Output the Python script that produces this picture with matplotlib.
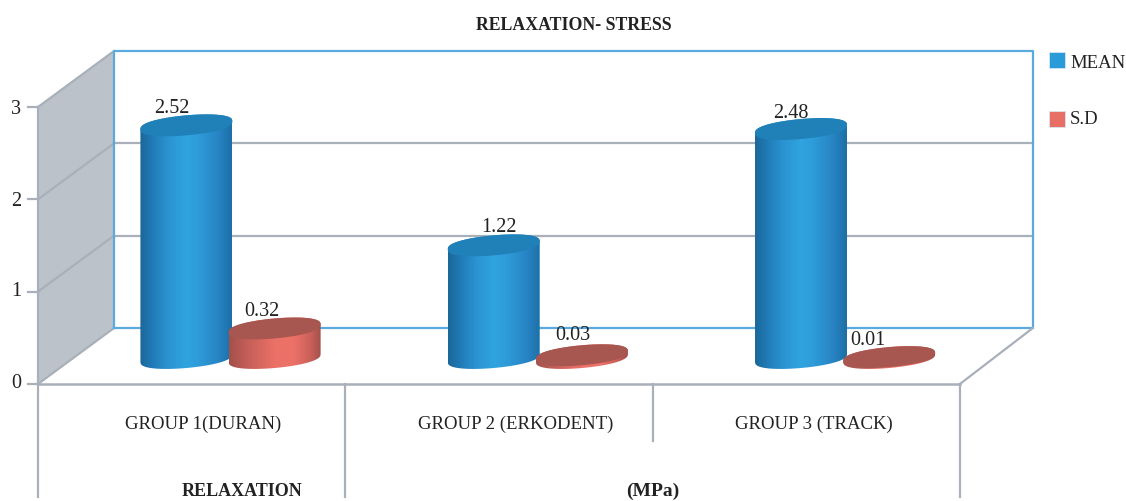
import numpy as np
import matplotlib
matplotlib.use("Agg")
import matplotlib.pyplot as plt
from matplotlib.colors import LinearSegmentedColormap
from matplotlib.patches import Polygon, Rectangle

plt.rcParams['font.family'] = ['Liberation Serif', 'DejaVu Serif']

groups = ['GROUP 1(DURAN)', 'GROUP 2 (ERKODENT)', 'GROUP 3 (TRACK)']
mean_vals = [2.52, 1.22, 2.48]
sd_vals = [0.32, 0.03, 0.01]
y_ticks = [0, 1, 2, 3]

# scale of the front wall: pixels per group and per unit of stress
PX_GROUP = 307.3
PX_UNIT = 92.33
X0, Y0 = 38, 384
DEPTH_X = 76 / PX_GROUP
DEPTH_Y = 56 / PX_UNIT
RIGHT_DEPTH = 73 / PX_GROUP
HALF_W = 46 / PX_GROUP
RY = 10 / PX_UNIT
TILT = 4 / PX_UNIT
FLOOR_Y = 26 / PX_UNIT

GRID = '#a9b0ba'
BLUE_LINE = '#5aa9df'
TEXT = '#222222'

blue_ramp = LinearSegmentedColormap.from_list('b', [(0, '#1b6799'), (0.12, '#2079b4'), (0.3, '#2a93d1'), (0.5, '#30a4df'),
                                                    (0.62, '#2e9dda'), (0.85, '#2884c4'), (1, '#1d6fa6')])
red_ramp = LinearSegmentedColormap.from_list('r', [(0, '#a3504a'), (0.2, '#c45f58'), (0.5, '#ec7167'), (0.7, '#ec7167'),
                                                   (0.88, '#c9605a'), (1, '#9f4f49')])


def px(x, y):
    return (x - X0) / PX_GROUP, (Y0 - y) / PX_UNIT


def ellipse(cx, cy, t):
    s = np.sin(t)
    # slightly squared-off ends, and tilted up to the right
    return np.column_stack([cx + HALF_W * np.cos(t),
                            cy + RY * np.sign(s) * np.abs(s) ** 0.8 + TILT * np.cos(t)])


def cylinder(ax, cx, value, ramp, top_color, z):
    base = FLOOR_Y
    lower = ellipse(cx, base, np.linspace(np.pi, 2 * np.pi, 50))
    upper = ellipse(cx, base + value, np.linspace(0, np.pi, 50))
    body = Polygon(np.vstack([lower, upper]), closed=True, transform=ax.transData, fc='none', ec='none')
    ax.add_patch(body)
    grad = np.linspace(0, 1, 256).reshape(1, -1)
    im = ax.imshow(grad, cmap=ramp, aspect='auto', interpolation='bilinear', zorder=z,
                   extent=(cx - HALF_W, cx + HALF_W, base - 2 * RY, base + value + 2 * RY))
    im.set_clip_path(body)
    cap = ellipse(cx, base + value, np.linspace(0, 2 * np.pi, 100))
    ax.add_patch(Polygon(cap, closed=True, fc=top_color, ec='none', zorder=z + 0.1))


fig = plt.figure(figsize=(11.26, 5.01), dpi=100)
ax = fig.add_axes([0, 0, 1, 1])
ax.set_xlim(-X0 / PX_GROUP, (1126 - X0) / PX_GROUP)
ax.set_ylim((Y0 - 501) / PX_UNIT, Y0 / PX_UNIT)
ax.axis('off')
ax.set_autoscale_on(False)

n = len(groups)
top = y_ticks[-1]
right = n + RIGHT_DEPTH

# side wall and its grid lines
ax.add_patch(Polygon([(0, 0), (DEPTH_X, DEPTH_Y), (DEPTH_X, top + DEPTH_Y), (0, top)],
                     closed=True, fc='#bcc2ca', ec='none', zorder=1))
tick_label_y = [384, 292, 201, 110]
for v, ly in zip(y_ticks, tick_label_y):
    ax.plot([0, DEPTH_X], [v, v + DEPTH_Y], color=GRID, lw=1.6, zorder=2)
    ax.plot([-10 / PX_GROUP, 0], [v, v], color=GRID, lw=1.6, zorder=2)
    ax.text(*px(16, ly), str(v), ha='center', va='center', fontsize=14.5, color=TEXT)
for v in y_ticks[1:-1]:
    ax.plot([DEPTH_X, right], [v + DEPTH_Y, v + DEPTH_Y], color=GRID, lw=1.6, zorder=2)

# back wall outline
ax.plot([DEPTH_X, DEPTH_X, right, right, DEPTH_X],
        [DEPTH_Y, top + DEPTH_Y, top + DEPTH_Y, DEPTH_Y, DEPTH_Y], color=BLUE_LINE, lw=1.6, zorder=3)

# floor edges and the category separators
ax.plot([0, n], [0, 0], color=GRID, lw=1.8, zorder=3)
ax.plot([n, right], [0, DEPTH_Y], color=GRID, lw=1.6, zorder=3)
ax.plot([0, 0], [0, top], color=GRID, lw=1.6, zorder=3)
seps_bottom = [497, 497, 441, 497]
for i, b in enumerate(seps_bottom):
    ax.plot([i, i], [0, px(0, b)[1]], color=GRID, lw=1.6, zorder=3)

# bars and value labels
mean_x = 0.483
sd_x = 0.770
mean_off = [(-15, -17), (5, -18), (-10, -16)]
sd_off = [(-13, -17), (-9, -20), (-21, -17)]
for i in range(n):
    cylinder(ax, i + mean_x, mean_vals[i], blue_ramp, '#2080b8', 5)
    cylinder(ax, i + sd_x, sd_vals[i], red_ramp, '#a85650', 6)
    ax.text(i + mean_x + mean_off[i][0] / PX_GROUP, FLOOR_Y + mean_vals[i] - mean_off[i][1] / PX_UNIT,
            f'{mean_vals[i]:.2f}', ha='center', va='center', fontsize=14.5, color=TEXT, zorder=8)
    ax.text(i + sd_x + sd_off[i][0] / PX_GROUP, FLOOR_Y + sd_vals[i] - sd_off[i][1] / PX_UNIT,
            f'{sd_vals[i]:.2f}', ha='center', va='center', fontsize=14.5, color=TEXT, zorder=8)

# category labels
label_px = [203, 516, 814]
for name, lx in zip(groups, label_px):
    ax.text(*px(lx, 424), name, ha='center', va='center', fontsize=13.5, color=TEXT)

ax.text(*px(574, 26), 'RELAXATION- STRESS', ha='center', va='center', fontsize=12.8,
        fontweight='bold', color=TEXT)
ax.text(*px(242, 491), 'RELAXATION', ha='center', va='center', fontsize=13, fontweight='bold', color=TEXT)
ax.text(*px(653, 491), '(MPa)', ha='center', va='center', fontsize=14, fontweight='bold', color=TEXT)

# legend
for name, c, ly, ty in [('MEAN', '#2a9bd9', 52, 64), ('S.D', '#e86f66', 111, 120)]:
    x0, y0 = px(1049, ly + 16)
    ax.add_patch(Rectangle((x0, y0), 16 / PX_GROUP, 16 / PX_UNIT, fc=c, ec='#d8e6f0', lw=0.6))
    ax.text(*px(1070, ty), name, ha='left', va='center', fontsize=13.5, color=TEXT)

fig.savefig('out.png', dpi=100)
